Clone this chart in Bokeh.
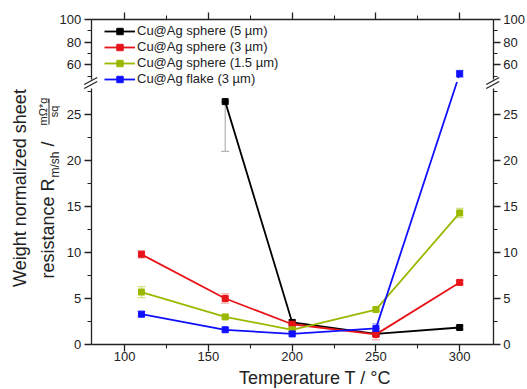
import math
import numpy as np
from bokeh.plotting import figure
from bokeh.models import (ColumnDataSource, Whisker, TeeHead, LinearAxis, FixedTicker,
                          Range1d, Label, Legend, LegendItem)
from bokeh.embed import file_html
from bokeh.resources import INLINE

# ---------------- data ----------------
t_5um = [160, 200, 250, 300]
r_5um = [26.4, 2.4, 1.15, 1.85]
elo_5um = [5.4, 0.3, 0.2, 0.2]
ehi_5um = [0.0, 0.3, 0.2, 0.2]

t_3um = [110, 160, 200, 250, 300]
r_3um = [9.8, 5.0, 2.2, 1.1, 6.75]
elo_3um = [0.4, 0.5, 0.3, 0.6, 0.2]
ehi_3um = [0.4, 0.5, 0.3, 0.6, 0.2]

t_15um = [110, 160, 200, 250, 300]
r_15um = [5.7, 3.0, 1.6, 3.8, 14.3]
elo_15um = [0.6, 0.2, 0.2, 0.2, 0.5]
ehi_15um = [0.6, 0.2, 0.2, 0.2, 0.5]

t_flake = [110, 160, 200, 250, 300]
r_flake = [3.3, 1.6, 1.15, 1.75, 52.0]
elo_flake = [0.3, 0.2, 0.2, 0.5, 3.0]
ehi_flake = [0.3, 0.2, 0.2, 0.5, 3.0]

series_labels = ["Cu@Ag sphere (5 µm)", "Cu@Ag sphere (3 µm)",
                 "Cu@Ag sphere (1.5 µm)", "Cu@Ag flake (3 µm)"]
series_colors = ["#000000", "#e8141a", "#9bb800", "#1010ff"]
error_colors = ["#b4b4b4", "#f4a4a4", "#d2e38a", "#a8a8ff"]

x_ticks = [100, 150, 200, 250, 300]
x_minor = [125, 175, 225, 275]
y_low_ticks = [0, 5, 10, 15, 20, 25]
y_low_minor = [2.5, 7.5, 12.5, 17.5, 22.5, 27.5]
y_up_ticks = [60, 80, 100]
y_up_minor = [50, 70, 90]

x_title = "Temperature T / °C"
y_title_1 = "Weight normalized sheet"

# ---------------- layout (page pixels) ----------------
W, H = 527, 389
X_MIN, X_MAX = 80, 320          # x-axis extent
LOW_MIN, LOW_MAX = 0, 27.8      # lower y segment
UP_MIN, UP_MAX = 46.5, 100      # upper y segment
PX_X0 = 90.7                    # page x of X_MIN
PPX = 1.675                     # px per degree
LOW_BASE_PX = 344.0             # page y of 0
PPU_LOW = 9.2
UP_TOP_PX = 19.0                # page y of 100
PPU_UP = 1.13
GAP_A_PX, GAP_B_PX = 81.5, 77.5  # line gap through the axis break


def x_of_page(px):
    return X_MIN + (px - PX_X0) / PPX


def ylow_of_page(py):
    return (LOW_BASE_PX - py) / PPU_LOW


def yup_of_page(py):
    return UP_MAX - (py - UP_TOP_PX) / PPU_UP


def page_y(v):
    if v <= LOW_MAX:
        return LOW_BASE_PX - v * PPU_LOW
    return UP_TOP_PX + (UP_MAX - v) * PPU_UP


def lower_eq(v):
    return ylow_of_page(page_y(v))


def line_coords(t, r):
    xs, ys = [t[0]], [lower_eq(r[0])]
    for i in range(1, len(t)):
        a, b = r[i - 1], r[i]
        if (a <= LOW_MAX) != (b <= LOW_MAX):
            ya, yb = page_y(a), page_y(b)
            cuts = [GAP_A_PX, GAP_B_PX] if ya > yb else [GAP_B_PX, GAP_A_PX]
            for k, c in enumerate(cuts):
                f = (ya - c) / (ya - yb)
                xs.append(t[i - 1] + f * (t[i] - t[i - 1]))
                ys.append(ylow_of_page(c))
                if k == 0:
                    xs.append(float("nan"))
                    ys.append(float("nan"))
        xs.append(t[i])
        ys.append(lower_eq(b))
    return xs, ys


FONT = "Liberation Sans"
TXT = "#222222"

p = figure(width=W, height=H, toolbar_location=None, output_backend="svg",
           x_range=Range1d(x_of_page(0), x_of_page(W)),
           y_range=Range1d(ylow_of_page(H), ylow_of_page(0)),
           x_axis_type=None, y_axis_type=None, min_border=0)
p.extra_y_ranges = {"up": Range1d(yup_of_page(H), yup_of_page(0))}
p.outline_line_color = None
p.background_fill_color = "white"
p.border_fill_color = "white"


def style_axis(ax, ticks, minor, labels=True, standoff=3):
    ax.ticker = FixedTicker(ticks=ticks, minor_ticks=minor)
    ax.axis_line_color = TXT
    ax.axis_line_width = 1.3
    ax.major_tick_line_color = TXT
    ax.major_tick_line_width = 1.3
    ax.minor_tick_line_color = TXT
    ax.minor_tick_line_width = 1.1
    ax.major_tick_in = 0
    ax.major_tick_out = 7
    ax.minor_tick_in = 0
    ax.minor_tick_out = 4
    ax.major_label_text_font = FONT
    ax.major_label_text_font_size = "13px"
    ax.major_label_text_color = TXT
    ax.major_label_standoff = standoff
    if not labels:
        ax.major_label_overrides = {t: "" for t in ticks}
        ax.major_label_text_font_size = "0px"


ax_bottom = LinearAxis(fixed_location=0, bounds=(X_MIN, X_MAX))
style_axis(ax_bottom, x_ticks, x_minor, standoff=0)
p.add_layout(ax_bottom, "below")

ax_top = LinearAxis(y_range_name="up", fixed_location=UP_MAX, bounds=(X_MIN, X_MAX))
style_axis(ax_top, x_ticks, x_minor, labels=False)
p.add_layout(ax_top, "above")

for side, loc in (("left", X_MIN), ("right", X_MAX)):
    ax_l = LinearAxis(fixed_location=loc, bounds=(LOW_MIN, LOW_MAX))
    style_axis(ax_l, y_low_ticks, y_low_minor)
    p.add_layout(ax_l, side)
    ax_u = LinearAxis(y_range_name="up", fixed_location=loc, bounds=(UP_MIN, UP_MAX))
    style_axis(ax_u, y_up_ticks, y_up_minor)
    p.add_layout(ax_u, side)

all_series = [
    (t_5um, r_5um, elo_5um, ehi_5um),
    (t_3um, r_3um, elo_3um, ehi_3um),
    (t_15um, r_15um, elo_15um, ehi_15um),
    (t_flake, r_flake, elo_flake, ehi_flake),
]

legend_items = []
for (t, r, elo, ehi), lab, col, ecol in zip(all_series, series_labels, series_colors, error_colors):
    lx, ly = line_coords(t, r)
    ln = p.line(lx, ly, line_color=col, line_width=1.8)
    first_scatter = None
    for rng, idx in (("default", [i for i, v in enumerate(r) if v <= LOW_MAX]),
                     ("up", [i for i, v in enumerate(r) if v >= UP_MIN])):
        if not idx:
            continue
        src = ColumnDataSource(dict(
            x=[t[i] for i in idx], y=[r[i] for i in idx],
            lo=[r[i] - elo[i] for i in idx], hi=[r[i] + ehi[i] for i in idx]))
        w = Whisker(source=src, base="x", lower="lo", upper="hi", dimension="height",
                    y_range_name=rng, line_color=ecol, line_width=1.2,
                    lower_head=TeeHead(size=8, line_color=ecol, line_width=1.2),
                    upper_head=TeeHead(size=8, line_color=ecol, line_width=1.2))
        p.add_layout(w)
        s = p.scatter("x", "y", source=src, y_range_name=rng, marker="square", size=6,
                      fill_color=col, line_color=col)
        if first_scatter is None:
            first_scatter = s
    legend_items.append(LegendItem(label=lab, renderers=[ln, first_scatter]))

legend = Legend(items=legend_items, location=(104, H - 86.5),
                background_fill_alpha=0, border_line_color=None,
                padding=0, margin=0, spacing=0,
                glyph_width=31, glyph_height=16, label_height=16,
                label_standoff=2, label_text_font=FONT,
                label_text_font_size="13px", label_text_color=TXT)
p.add_layout(legend)

# axis-break marks on both vertical axes
bx0, by0, bx1, by1 = [], [], [], []
for cx in (PX_X0, PX_X0 + (X_MAX - X_MIN) * PPX):
    for dy in (0, 4):
        bx0.append(x_of_page(cx - 7)); by0.append(ylow_of_page(84 + dy))
        bx1.append(x_of_page(cx + 6)); by1.append(ylow_of_page(77 + dy))
p.segment(bx0, by0, bx1, by1, line_color=TXT, line_width=1.2)


def add_label(x_px, y_px, text, size, align="left", angle=math.pi / 2):
    p.add_layout(Label(x=x_of_page(x_px), y=ylow_of_page(y_px), text=text, angle=angle,
                       text_align=align, text_baseline="middle", text_font=FONT,
                       text_font_size=size, text_color=TXT))


# y-axis title (two rotated lines with subscript and fraction); x = centre line of the text
add_label(19, 187.5, y_title_1, "18px", align="center")
add_label(47.5, 278, "resistance R", "18px")
add_label(54.5, 177, "m/sh", "12px")
add_label(47.5, 146, "/", "18px")
add_label(42.5, 111, "mΩ*g", "11px", align="center")
add_label(53, 111, "sq", "11px", align="center")
p.segment([x_of_page(48.5)], [ylow_of_page(98)], [x_of_page(48.5)], [ylow_of_page(124)],
          line_color=TXT, line_width=1)

# x-axis title
add_label(314.5, 377, x_title, "18px", align="center", angle=0)

open("out.html", "w").write(file_html(p, INLINE))
